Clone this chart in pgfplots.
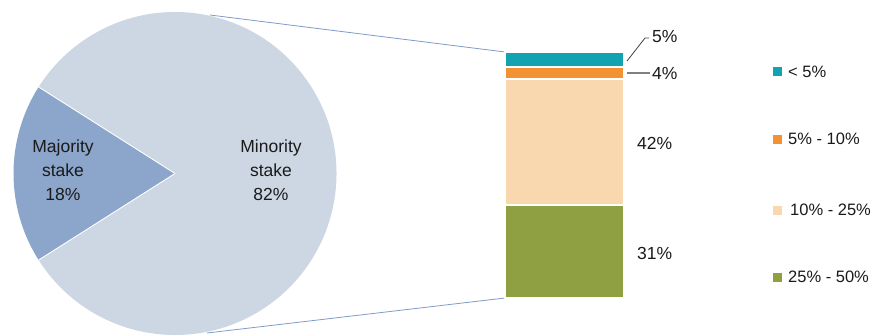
\documentclass[border=0pt]{standalone}
\usepackage{pgfplots}
\pgfplotsset{compat=1.18}
\usepackage{fontspec}
\setmainfont{Liberation Sans}
\definecolor{cmaj}{HTML}{8BA5CB}
\definecolor{cmin}{HTML}{CDD7E3}
\definecolor{cteal}{HTML}{13A2B1}
\definecolor{corange}{HTML}{F39232}
\definecolor{cbeige}{HTML}{F9D7AF}
\definecolor{cgreen}{HTML}{8EA041}
\definecolor{cline}{HTML}{7E9BC8}
\definecolor{ctext}{HTML}{1A1A1A}
\begin{document}
\begin{tikzpicture}[x=1pt,y=1pt]
\useasboundingbox (0,0) rectangle (874,335);
\begin{axis}[at={(0pt,0pt)},anchor=south west,width=874pt,height=335pt,scale only axis,
  xmin=0,xmax=874,ymin=0,ymax=335,enlargelimits=false,hide axis,clip=false]
\def\majority{18}
\def\minority{82}
\pgfmathsetmacro\aA{180-\majority*1.8}
\pgfmathsetmacro\aB{180+\majority*1.8}
\pgfmathsetmacro\aC{\aA+360}
% pie
\fill[cmin] (175,161.5) -- ++(\aB:161.5) arc[start angle=\aB,end angle=\aC,radius=161.5] -- cycle;
\fill[cmaj] (175,161.5) -- ++(\aA:161.5) arc[start angle=\aA,end angle=\aB,radius=161.5] -- cycle;
\draw[white,line width=0.9pt] (175,161.5) -- ++(\aA:161.5);
\draw[white,line width=0.9pt] (175,161.5) -- ++(\aB:161.5);
% connector lines
\draw[cline,line width=0.8pt] (210,320) -- (505,283);
\draw[cline,line width=0.8pt] (207,2) -- (505,37);
% pie labels
\begin{scope}[every node/.style={font=\fontsize{17.5}{20}\selectfont,text=ctext,inner sep=0pt,anchor=base}]
\node at (63,182.7) {Majority};
\node at (63,158.7) {stake};
\node at (63,134.7) {18\%};
\node at (271,182.7) {Minority};
\node at (271,158.7) {stake};
\node at (271,134.7) {82\%};
\end{scope}
% bar labels
\begin{scope}[every node/.style={font=\fontsize{17.5}{20}\selectfont,text=ctext,inner sep=0pt,anchor=base west}]
\node at (652,292.7) {5\%};
\node at (652,255.7) {4\%};
\node at (637,185.7) {42\%};
\node at (637,75.7) {31\%};
\end{scope}
\draw[black!75,line width=0.8pt] (627,274) -- (645,297) -- (649,297);
\draw[black!50,line width=1.2pt] (627,262) -- (650,262);
% legend
\fill[cteal] (773,258.5) rectangle (782,267.5);
\fill[corange] (773,191.5) rectangle (782,200.5);
\fill[cbeige] (773,120.5) rectangle (782,129.5);
\fill[cgreen] (773,53.5) rectangle (782,62.5);
\begin{scope}[every node/.style={font=\fontsize{16.5}{19}\selectfont,text=ctext,inner sep=0pt,anchor=base west}]
\node at (788,257.1) {\textless{} 5\%};
\node at (788,190.1) {5\% - 10\%};
\node at (790,119.1) {10\% - 25\%};
\node at (788,52.1) {25\% - 50\%};
\end{scope}
\end{axis}
\begin{axis}[at={(505pt,37pt)},anchor=south west,width=119pt,height=246pt,scale only axis,
  xmin=-0.5,xmax=0.5,ymin=0,ymax=82,enlargelimits=false,hide axis,clip=false,
  ybar stacked,bar width=119pt,
  every axis plot/.append style={draw=white,line width=1.3pt}]
\addplot[fill=cgreen] coordinates {(0,31)};
\addplot[fill=cbeige] coordinates {(0,42)};
\addplot[fill=corange] coordinates {(0,4)};
\addplot[fill=cteal] coordinates {(0,5)};
\end{axis}
\end{tikzpicture}
\end{document}
